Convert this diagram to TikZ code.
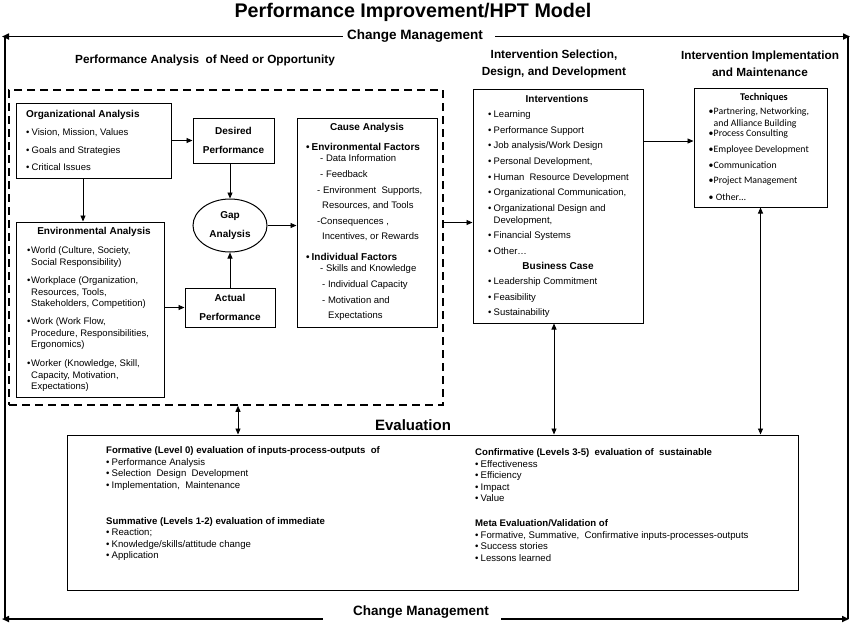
\documentclass[tikz,border=0pt]{standalone}
\usepackage{fontspec}
\setmainfont{Liberation Sans}
\newfontfamily\calfont{Carlito}
\usetikzlibrary{arrows.meta,shapes.geometric}
\newcommand{\mybul}{\makebox[5.5pt][l]{\textbullet}}
\newcommand{\mybulb}{\makebox[4pt][l]{\textbullet}}
\newcommand{\mybulc}{\makebox[5pt][l]{\textbullet}}
\newcommand{\myind}[1]{\hspace*{#1pt}}
\begin{document}
\begin{tikzpicture}[x=1pt,y=-1pt,
  boxst/.style={draw, line width=1pt, inner sep=0pt},
  textst/.style={inner sep=0pt, anchor=north west, align=left},
  headst/.style={inner sep=0pt, font=\bfseries\fontsize{10}{19}\selectfont, align=center},
  sechead/.style={inner sep=0pt, font=\bfseries\fontsize{11.8}{17}\selectfont, align=center},
  cmlbl/.style={inner sep=0pt, font=\bfseries\fontsize{13.5}{16}\selectfont},
  arrst/.style={line width=0.9pt, -{Triangle[length=6pt,width=5pt]}},
  darrst/.style={line width=0.9pt, {Triangle[length=6pt,width=5pt]}-{Triangle[length=6pt,width=5pt]}},
  framest/.style={line width=1.6pt},
  framearr/.style={line width=1.6pt, -{Triangle[length=7pt,width=6pt]}},
]
\fill[white] (0,0) rectangle (850,622);
\useasboundingbox (0,0) rectangle (850,622);

% title
\node[inner sep=0pt, font=\bfseries\fontsize{19.7}{22}\selectfont] (title) at (413,12) {Performance Improvement/HPT Model};

% change management frame
\node[cmlbl] (cmt) at (415,36.5) {Change Management};
\node[cmlbl] (cmb) at (421,612.5) {Change Management};
\coordinate (ftl) at (2,36.5);
\coordinate (ftr) at (850,36.5);
\coordinate (fbl) at (2,619);
\coordinate (fbr) at (849,619);
\coordinate (flt) at (5,36.5);
\coordinate (flb) at (5,619);
\coordinate (frt) at (848,36.5);
\coordinate (frb) at (848,619);
\draw[framearr] ([xshift=-4pt]cmt.west) -- (ftl);
\draw[framearr] ([xshift=12pt]cmt.east) -- (ftr);
\draw[framest] (flt) -- (flb);
\draw[framest] (frt) -- (frb);
\draw[framearr] ([xshift=-30pt,yshift=-6.5pt]cmb.west) -- (fbl);
\draw[framearr] ([xshift=12pt,yshift=-6.5pt]cmb.east) -- (fbr);

% section headings
\node[sechead] (hpa) at (205,60) {Performance Analysis\ \ of Need or Opportunity};
\node[sechead] (hisd) at (554,63.5) {Intervention Selection,\\Design, and Development};
\node[sechead] (hiim) at (760,63.5) {Intervention Implementation\\and Maintenance};

% dashed performance analysis area
\node[draw, line width=1.6pt, dash pattern=on 8pt off 5pt, inner sep=0pt, minimum width=434, minimum height=315] (pa) at (226,247.5) {};

% organizational analysis
\node[boxst, minimum width=155, minimum height=75] (oa) at (93.5,140.5) {};
\node[textst, font=\fontsize{9.5}{17.7}\selectfont] (oatx) at (26,110.4)
 {{\bfseries\fontsize{10}{17.7}\selectfont Organizational Analysis}\\
  \mybul Vision, Mission, Values\\
  \mybul Goals and Strategies\\
  \mybul Critical Issues};

% desired performance
\node[boxst, headst, minimum width=81, minimum height=45] (dp) at (233.5,140.5) {Desired\\Performance};

% gap analysis
\node[ellipse, draw, line width=1pt, inner sep=0pt, minimum width=74, minimum height=53, font=\bfseries\fontsize{10}{19}\selectfont, align=center] (gap) at (230,225.5) {Gap\\Analysis};

% environmental analysis
\node[boxst, minimum width=148, minimum height=175] (ea) at (90,309.5) {};
\node[headst] (eatt) at (94,232) {Environmental Analysis};
\node[textst, font=\fontsize{9.5}{11.5}\selectfont] (eatx) at (27,246.6)
 {\mybulb World (Culture, Society,\\
  \myind{4}Social Responsibility)\\[7pt]
  \mybulb Workplace (Organization,\\
  \myind{4}Resources, Tools,\\
  \myind{4}Stakeholders, Competition)\\[6.5pt]
  \mybulb Work (Work Flow,\\
  \myind{4}Procedure, Responsibilities,\\
  \myind{4}Ergonomics)\\[7.5pt]
  \mybulb Worker (Knowledge, Skill,\\
  \myind{4}Capacity, Motivation,\\
  \myind{4}Expectations)};

% actual performance
\node[boxst, headst, minimum width=90, minimum height=39] (ap) at (230,307.5) {Actual\\Performance};

% cause analysis
\node[boxst, minimum width=140, minimum height=209] (ca) at (367,222.5) {};
\node[headst] (catt) at (367,128) {Cause Analysis};
\node[textst, font=\fontsize{9.5}{11}\selectfont] (catx) at (306,143.5)
 {{\bfseries\fontsize{10}{11}\selectfont\mybul Environmental Factors}\\
  \myind{14}- Data Information\\[4.6pt]
  \myind{14}- Feedback\\[4.6pt]
  \myind{11}- Environment\ \ Supports,\\[4.6pt]
  \myind{16}Resources, and Tools\\[4.6pt]
  \myind{11}-Consequences ,\\[4.6pt]
  \myind{16}Incentives, or Rewards\\[10pt]
  {\bfseries\fontsize{10}{11}\selectfont\mybul Individual Factors}\\
  \myind{14}- Skills and Knowledge\\[4.6pt]
  \myind{16}- Individual Capacity\\[4.6pt]
  \myind{16}- Motivation and\\[4.6pt]
  \myind{22}Expectations};

% interventions
\node[boxst, minimum width=170, minimum height=234] (iv) at (558,206) {};
\node[headst] (ivtt) at (557,99) {Interventions};
\node[textst, font=\fontsize{9.5}{12}\selectfont] (ivtx) at (488,110.6)
 {\mybul Learning\\[3.6pt]
  \mybul Performance Support\\[3.6pt]
  \mybul Job analysis/Work Design\\[3.6pt]
  \mybul Personal Development,\\[3.6pt]
  \mybul Human\ \ Resource Development\\[3.6pt]
  \mybul Organizational Communication,\\[3.6pt]
  \mybul Organizational Design and\\
  \myind{5.5}Development,\\[3.6pt]
  \mybul Financial Systems\\[3.6pt]
  \mybul Other\dots};
\node[headst] (bctt) at (558,266) {Business Case};
\node[textst, font=\fontsize{9.5}{15.5}\selectfont] (bctx) at (488,277.6)
 {\mybul Leadership Commitment\\
  \mybul Feasibility\\
  \mybul Sustainability};

% techniques
\node[boxst, minimum width=133, minimum height=119] (tq) at (760.5,147.5) {};
\node[inner sep=0pt, font=\calfont\bfseries\fontsize{10.3}{12}\selectfont] (tqtt) at (764,98) {Techniques};
\node[textst, font=\calfont\fontsize{9.8}{10}\selectfont] (tqtx) at (708.5,107.6)
 {\mybulc Partnering, Networking,\\[2pt]
  \myind{5}and Alliance Building\\
  \mybulc Process Consulting\\[6pt]
  \mybulc Employee Development\\[6pt]
  \mybulc Communication\\[5pt]
  \mybulc Project Management\\[7pt]
  \mybulc\ Other\dots};

% evaluation
\node[inner sep=0pt, font=\bfseries\fontsize{15}{18}\selectfont] (evtt) at (413,425) {Evaluation};
\node[boxst, minimum width=731, minimum height=155] (ev) at (432.5,512.5) {};
\node[textst, font=\fontsize{9.6}{11.5}\selectfont] (evl) at (106,446.6)
 {{\bfseries Formative (Level 0) evaluation of inputs-process-outputs\ \ of}\\
  \mybul Performance Analysis\\
  \mybul Selection\ \ Design\ \ Development\\
  \mybul Implementation,\ \ Maintenance\\[24.5pt]
  {\bfseries Summative (Levels 1-2) evaluation of immediate}\\
  \mybul Reaction;\\
  \mybul Knowledge/skills/attitude change\\
  \mybul Application};
\node[textst, font=\fontsize{9.6}{11.5}\selectfont] (evr) at (475,448.6)
 {{\bfseries Confirmative (Levels 3-5)\ \ evaluation of\ \ sustainable}\\
  \mybul Effectiveness\\
  \mybul Efficiency\\
  \mybul Impact\\
  \mybul Value\\[13.5pt]
  {\bfseries Meta Evaluation/Validation of}\\
  \mybul Formative, Summative,\ \ Confirmative inputs-processes-outputs\\
  \mybul Success stories\\
  \mybul Lessons learned};

% connectors
\draw[arrst] (oa.east) -- (dp.west);
\draw[arrst] (gap.north |- dp.south) -- (gap.north);
\draw[arrst] ([xshift=-10.5pt]oa.south) -- ([xshift=-10.5pt]oa.south |- ea.north);
\draw[arrst] (ea.east |- ap.west) -- (ap.west);
\draw[arrst] (ap.north) -- (gap.south);
\draw[arrst] (gap.east) -- (gap.east -| ca.west);
\draw[arrst] (pa.east |- ca.east) -- (ca.east -| iv.west);
\draw[arrst] ([yshift=6.5pt]tq.west -| iv.east) -- ([yshift=6.5pt]tq.west);
\draw[darrst] ([xshift=12pt]pa.south) -- ([xshift=12pt]pa.south |- ev.north);
\draw[darrst] ([xshift=-4pt]iv.south) -- ([xshift=-4pt]iv.south |- ev.north);
\draw[darrst] (tq.south) -- (tq.south |- ev.north);
\end{tikzpicture}
\end{document}
